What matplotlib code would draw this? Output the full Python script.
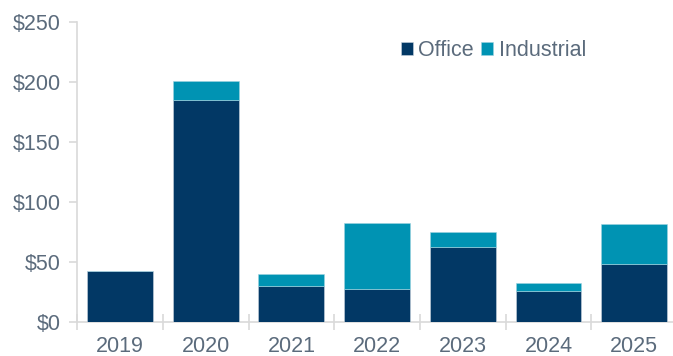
import matplotlib
matplotlib.use("Agg")
import matplotlib.pyplot as plt
import numpy as np
from matplotlib.ticker import FixedLocator, NullFormatter

years = ["2019", "2020", "2021", "2022", "2023", "2024", "2025"]
office = [42, 185, 30, 27.5, 62, 26, 48]
industrial = [0, 15.5, 9.5, 55, 12.5, 6, 33.5]
yticks = [0, 50, 100, 150, 200, 250]
ytick_labels = ["$0", "$50", "$100", "$150", "$200", "$250"]

c_office = "#023865"
c_ind = "#0093B3"
c_text = "#5B6B7C"
c_axis = "#D9D9D9"
fs = 15.5

plt.rcParams['font.family'] = ['Liberation Sans', 'DejaVu Sans']

W, H = 673, 356
fig = plt.figure(figsize=(W / 100, H / 100), dpi=100)
left = 77.3 / W
right = 677 / W
bottom = (H - 321.7) / H
height = 300 / H
ax = fig.add_axes([left, bottom, right - left, height])

x = np.arange(len(years))
bw = 0.77
ax.bar(x, office, bw, color=c_office, edgecolor="#c8d3de", linewidth=0.4, label="Office", zorder=3)
ax.bar(x, industrial, bw, bottom=office, color=c_ind, edgecolor="#9fd3e0", linewidth=0.4,
       label="Industrial", zorder=3)

ax.set_xlim(-0.5, len(years) - 0.5)
ax.set_ylim(0, 250)

for s in ["top", "right"]:
    ax.spines[s].set_visible(False)
for s in ["left", "bottom"]:
    ax.spines[s].set_color(c_axis)
    ax.spines[s].set_linewidth(1.2)

ax.set_yticks(yticks)
ax.set_yticklabels(ytick_labels)
ax.tick_params(axis="y", colors=c_axis, length=6, width=1.2, labelcolor=c_text, labelsize=fs, pad=6)

ax.set_xticks(x)
ax.set_xticklabels(years)
ax.tick_params(axis="x", which="major", length=0, labelcolor=c_text, labelsize=fs, pad=10.5)
ax.xaxis.set_minor_locator(FixedLocator(np.arange(-0.5, len(years), 1.0)))
ax.xaxis.set_minor_formatter(NullFormatter())
ax.tick_params(axis="x", which="minor", direction="inout", length=11, width=1.2, color=c_axis)

leg = ax.legend(loc="center left", bbox_to_anchor=((401 - 77.3) / (677 - 77.3), (322 - 51) / 300),
                ncol=2, frameon=False, fontsize=fs, handlelength=0.55, handleheight=0.55,
                handletextpad=0.25, columnspacing=0.35, borderaxespad=0, borderpad=0)
for t in leg.get_texts():
    t.set_color(c_text)

fig.savefig("out.png", dpi=100)
